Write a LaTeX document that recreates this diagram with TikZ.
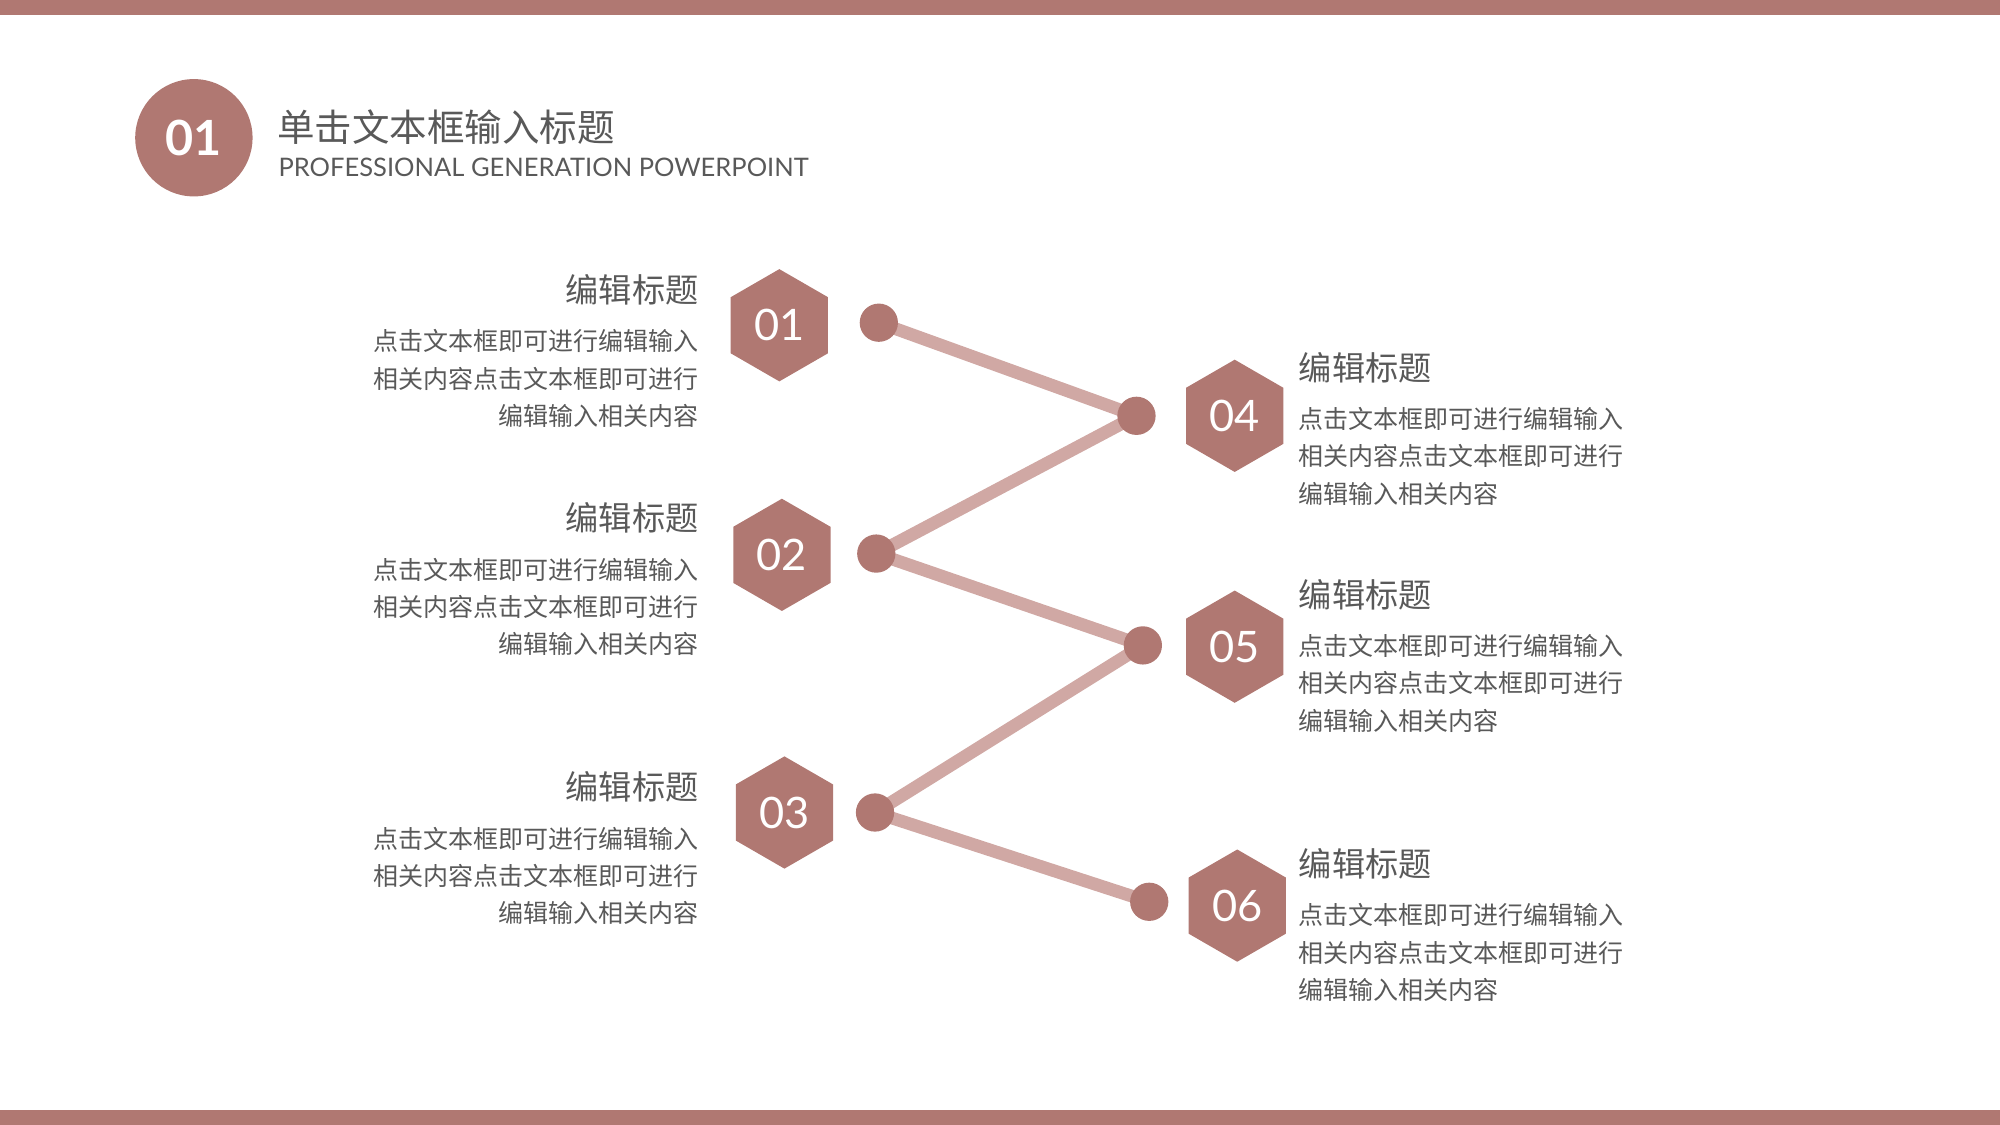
\documentclass[tikz,border=0pt]{standalone}
\usepackage{fontspec}
\setmainfont{Lato}
\newfontfamily\cjk{Noto Sans CJK SC}
\usetikzlibrary{shapes.geometric}
\definecolor{rose}{HTML}{B07872}
\definecolor{pale}{HTML}{D0A8A4}
\definecolor{txt}{HTML}{595959}
\begin{document}
\begin{tikzpicture}[x=0.5pt,y=-0.5pt,
  hex/.style={regular polygon,regular polygon sides=6,shape border rotate=30,minimum size=44pt,fill=rose,text=white,inner sep=0pt,font=\fontsize{17}{17}\selectfont},
  dot/.style={circle,fill=rose,minimum size=15pt,inner sep=0pt},
  link/.style={pale,line width=5pt},
  ttl/.style={text=txt,font=\cjk\fontsize{13}{14}\selectfont,inner sep=0pt},
  body/.style={text=txt,font=\cjk\fontsize{9.8}{14.6}\selectfont,inner sep=0pt}]
\useasboundingbox (0,0) rectangle (1568,882);
\fill[rose] (0,0) rectangle (1568,12);
\fill[rose] (0,870) rectangle (1568,882);
\node[circle,fill=rose,minimum size=46pt,inner sep=0pt,text=white,font=\bfseries\fontsize{19}{19}\selectfont] (c) at (152,108) {01};
\node[anchor=west,text=txt,font=\cjk\fontsize{14.7}{14.7}\selectfont,inner sep=0pt] (t) at (217,100) {单击文本框输入标题};
\node[anchor=west,text=txt,font=\fontsize{10}{10}\selectfont,inner sep=0pt] (s) at (218,131) {PROFESSIONAL GENERATION POWERPOINT};
\node[hex] (h1) at (611,255) {01};
\node[hex] (h2) at (613,435) {02};
\node[hex] (h3) at (615,637) {03};
\node[hex] (h4) at (968,326) {04};
\node[hex] (h5) at (968,507) {05};
\node[hex] (h6) at (970,710) {06};
\coordinate (a1) at (689,253);
\coordinate (b1) at (891,326);
\coordinate (a2) at (687,434);
\coordinate (b2) at (896,506);
\coordinate (a3) at (686,637);
\coordinate (b3) at (901,707);
\draw[link] (a1)--(b1)--(a2)--(b2)--(a3)--(b3);
\foreach \p in {a1,b1,a2,b2,a3,b3}{\node[dot] (d\p) at (\p) {};}
\foreach \n/\y in {l1/227,l2/406,l3/617}{
  \node[ttl,anchor=east] (\n t) at (548,\y) {编辑标题};
  \node[body,anchor=north east,align=right] (\n b) at (548,\y+31) {点击文本框即可进行编辑输入\\相关内容点击文本框即可进行\\编辑输入相关内容};
}
\foreach \n/\y in {r1/288,r2/466,r3/677}{
  \node[ttl,anchor=west] (\n t) at (1018,\y) {编辑标题};
  \node[body,anchor=north west,align=left] (\n b) at (1018,\y+31) {点击文本框即可进行编辑输入\\相关内容点击文本框即可进行\\编辑输入相关内容};
}
\end{tikzpicture}
\end{document}
